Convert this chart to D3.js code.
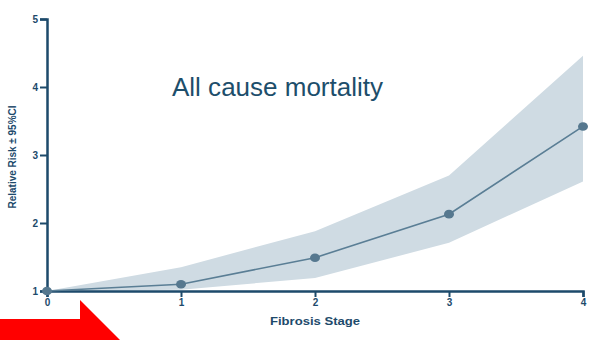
<!DOCTYPE html>
<html>
<head>
<meta charset="utf-8">
<script src="https://cdn.jsdelivr.net/npm/d3@7"></script>
<style>
  html, body { margin: 0; padding: 0; background: #ffffff; }
  svg { display: block; }
</style>
</head>
<body>
<svg id="chart" width="590" height="340"></svg>
<script>
// Relative risk of all-cause mortality by fibrosis stage, with 95% CI band
const stages = [0, 1, 2, 3, 4];
const relativeRisk = [1.0, 1.10, 1.49, 2.13, 3.42];
const ciUpper = [1.0, 1.35, 1.88, 2.70, 4.46];
const ciLower = [1.0, 1.02, 1.19, 1.71, 2.61];
const yTicks = [1, 2, 3, 4, 5];
const xTicks = [0, 1, 2, 3, 4];

const svg = d3.select("#chart");
const axisColor = "#1d4a6b";
const font = "Liberation Sans, Arial, sans-serif";

const x = d3.scaleLinear().domain([0, 4]).range([47, 583]);
const y = d3.scaleLinear().domain([1, 5]).range([291, 19]);

const rows = stages.map((s, i) => ({ s, rr: relativeRisk[i], lo: ciLower[i], hi: ciUpper[i] }));

// confidence band
svg.append("path")
  .datum(rows)
  .attr("fill", "#cfdbe3")
  .attr("d", d3.area().x(d => x(d.s)).y0(d => y(d.lo)).y1(d => y(d.hi)));

// axes
const yAxis = svg.append("g")
  .attr("transform", `translate(${x(0)},0)`)
  .call(d3.axisLeft(y).tickValues(yTicks).tickSize(7).tickPadding(2).tickFormat(d3.format("d")));
const xAxis = svg.append("g")
  .attr("transform", `translate(0,${y(1)})`)
  .call(d3.axisBottom(x).tickValues(xTicks).tickSize(6).tickPadding(2).tickFormat(d3.format("d")));

[yAxis, xAxis].forEach(g => {
  g.select(".domain").attr("stroke", axisColor).attr("stroke-width", 2.5);
  g.selectAll(".tick line").attr("stroke", axisColor).attr("stroke-width", 2);
  g.selectAll(".tick text")
    .attr("fill", axisColor)
    .attr("font-family", font)
    .attr("font-weight", "bold")
    .attr("font-size", 10);
});

// risk line and points
svg.append("path")
  .datum(rows)
  .attr("fill", "none")
  .attr("stroke", "#5a7e95")
  .attr("stroke-width", 1.6)
  .attr("d", d3.line().x(d => x(d.s)).y(d => y(d.rr)));

svg.selectAll("ellipse.pt")
  .data(rows)
  .join("ellipse")
  .attr("class", "pt")
  .attr("cx", d => x(d.s))
  .attr("cy", d => y(d.rr))
  .attr("rx", 5)
  .attr("ry", 4.3)
  .attr("fill", "#56788f");

// titles
svg.append("text")
  .attr("x", 277.5).attr("y", 96)
  .attr("text-anchor", "middle")
  .attr("font-family", font)
  .attr("font-size", 26)
  .attr("textLength", 211)
  .attr("lengthAdjust", "spacingAndGlyphs")
  .attr("fill", "#1d4e6b")
  .text("All cause mortality");

svg.append("text")
  .attr("x", 315).attr("y", 325)
  .attr("text-anchor", "middle")
  .attr("font-family", font)
  .attr("font-weight", "bold")
  .attr("font-size", 11)
  .attr("textLength", 90)
  .attr("lengthAdjust", "spacingAndGlyphs")
  .attr("fill", axisColor)
  .text("Fibrosis Stage");

svg.append("text")
  .attr("transform", "translate(16,157) rotate(-90)")
  .attr("text-anchor", "middle")
  .attr("font-family", font)
  .attr("font-weight", "bold")
  .attr("font-size", 10.5)
  .attr("textLength", 103)
  .attr("lengthAdjust", "spacingAndGlyphs")
  .attr("fill", axisColor)
  .text("Relative Risk ± 95%CI");

// red arrow in the lower-left corner
svg.append("path")
  .attr("fill", "#ff0000")
  .attr("d", "M0,319 L80,319 L80,300 L126,346 L0,346 Z");
</script>
</body>
</html>
